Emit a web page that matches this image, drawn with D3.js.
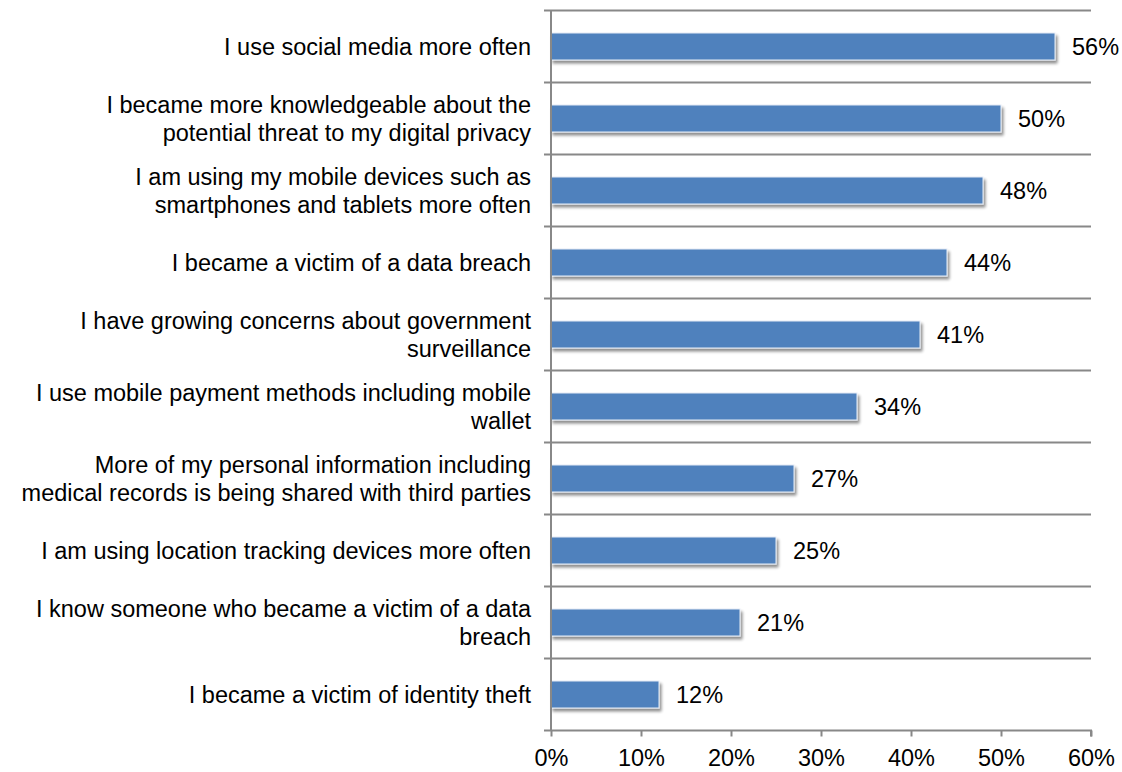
<!DOCTYPE html>
<html>
<head>
<meta charset="utf-8">
<script src="https://cdn.jsdelivr.net/npm/d3@7"></script>
<style>
  html, body { margin: 0; padding: 0; background: #fff; }
  svg { display: block; }
  text { font-family: "Liberation Sans", Arial, Helvetica, sans-serif; fill: #000; }
</style>
</head>
<body>
<svg id="chart" width="1122" height="772"></svg>
<script>
// Survey responses (share of respondents)
const categories = [
  ["I use social media more often"],
  ["I became more knowledgeable about the", "potential threat to my digital privacy"],
  ["I am using my mobile devices such as", "smartphones and tablets more often"],
  ["I became a victim of a data breach"],
  ["I have growing concerns about government", "surveillance"],
  ["I use mobile payment methods including mobile", "wallet"],
  ["More of my personal information including", "medical records is being shared with third parties"],
  ["I am using location tracking devices more often"],
  ["I know someone who became a victim of a data", "breach"],
  ["I became a victim of identity theft"]
];
const values = [56, 50, 48, 44, 41, 34, 27, 25, 21, 12];
const xTicks = [0, 10, 20, 30, 40, 50, 60];

const svg = d3.select("#chart");
const plotLeft = 551, plotRight = 1091, plotTop = 10.5, plotBottom = 730.5;
const gridColor = "#888888";
const fontSize = 23.5;

const x = d3.scaleLinear().domain([0, 60]).range([plotLeft, plotRight]);
const y = d3.scaleBand().domain(d3.range(categories.length)).range([plotTop, plotBottom]).paddingInner(0).paddingOuter(0);

// drop shadow for bars
const defs = svg.append("defs");
const f = defs.append("filter").attr("id", "shadow").attr("x", "-5%").attr("y", "-30%").attr("width", "115%").attr("height", "180%");
f.append("feGaussianBlur").attr("in", "SourceAlpha").attr("stdDeviation", 1.6).attr("result", "b");
f.append("feOffset").attr("in", "b").attr("dx", 1.5).attr("dy", 2.5).attr("result", "o");
f.append("feComponentTransfer").attr("in", "o").attr("result", "s")
  .append("feFuncA").attr("type", "linear").attr("slope", 0.45);
const m = f.append("feMerge");
m.append("feMergeNode").attr("in", "s");
m.append("feMergeNode").attr("in", "SourceGraphic");

// horizontal separators between categories (with short ticks left of the axis)
const bounds = d3.range(categories.length).map(i => y(i));
svg.append("g").selectAll("line").data(bounds).join("line")
  .attr("x1", plotLeft - 7).attr("x2", plotRight)
  .attr("y1", d => d).attr("y2", d => d)
  .attr("stroke", gridColor).attr("stroke-width", 2);

// bars
const bh = 27;
svg.append("g").selectAll("rect").data(values).join("rect")
  .attr("x", plotLeft)
  .attr("y", (d, i) => y(i) + y.bandwidth() / 2 - bh / 2)
  .attr("width", d => x(d) - plotLeft)
  .attr("height", bh)
  .attr("fill", "#4F81BD")
  .attr("stroke", "#E6ECF5")
  .attr("stroke-width", 1)
  .attr("filter", "url(#shadow)");

// value labels
svg.append("g").selectAll("text").data(values).join("text")
  .attr("x", d => x(d) + 17)
  .attr("y", (d, i) => y(i) + y.bandwidth() / 2)
  .attr("dy", "0.36em")
  .attr("font-size", fontSize)
  .text(d => d + "%");

// category labels
const lineH = 28;
const catG = svg.append("g");
categories.forEach((lines, i) => {
  const cy = y(i) + y.bandwidth() / 2;
  const t = catG.append("text")
    .attr("text-anchor", "end")
    .attr("font-size", fontSize);
  lines.forEach((ln, j) => {
    t.append("tspan")
      .attr("x", plotLeft - 20)
      .attr("y", cy + (j - (lines.length - 1) / 2) * lineH)
      .attr("dy", "0.36em")
      .text(ln);
  });
});

// vertical axis line
svg.append("line")
  .attr("x1", plotLeft).attr("x2", plotLeft).attr("y1", plotTop).attr("y2", plotBottom)
  .attr("stroke", gridColor).attr("stroke-width", 2);

// bottom axis
const xAxis = d3.axisBottom(x).tickValues(xTicks).tickFormat(d => d + "%").tickSize(6).tickPadding(13);
const ax = svg.append("g").attr("transform", `translate(0,${plotBottom})`).call(xAxis);
ax.select(".domain").attr("stroke", gridColor).attr("stroke-width", 2)
  .attr("d", `M${plotLeft - 7},0H${plotRight}V6`);
ax.selectAll(".tick line").attr("stroke", gridColor).attr("stroke-width", 2);
ax.selectAll(".tick text").attr("font-size", fontSize).attr("fill", "#000")
  .attr("font-family", "Liberation Sans, Arial, sans-serif");
</script>
</body>
</html>
